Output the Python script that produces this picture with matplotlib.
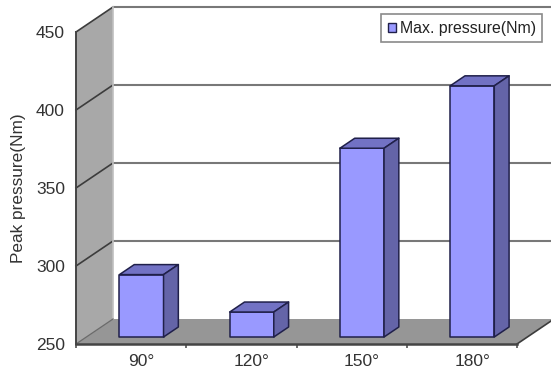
import matplotlib
matplotlib.use("Agg")
import matplotlib.pyplot as plt
from matplotlib.patches import Polygon, Patch

# Chart data
categories = ["90°", "120°", "150°", "180°"]
max_pressure = [290, 266, 371, 411]
y_ticks = [250, 300, 350, 400, 450]
series_name = "Max. pressure(Nm)"
y_label = "Peak pressure(Nm)"

W, H = 551, 374
plt.rcParams["font.family"] = ["Liberation Sans", "DejaVu Sans"]

fig = plt.figure(figsize=(W / 100, H / 100), dpi=100, facecolor="white")
left, right, bottom, top = 76, 517, 344, 32
ax = fig.add_axes([left / W, 1 - bottom / H, (right - left) / W, (bottom - top) / H])
ax.set_xlim(0, len(categories))
ax.set_ylim(y_ticks[0], y_ticks[-1])
ax.patch.set_visible(False)

# Oblique projection: depth 0 is the front plane, depth 1 the back wall
units_x = (right - left) / len(categories)
units_y = (bottom - top) / (y_ticks[-1] - y_ticks[0])
DX = 37 / units_x
DY = 25 / units_y


def project(x, v, d=0.0):
    return (x + d * DX, v + d * DY)


def face(points, **kw):
    patch = Polygon([project(*p) for p in points], closed=True, clip_on=False, **kw)
    ax.add_patch(patch)
    return patch


n = len(categories)
y0, y1 = y_ticks[0], y_ticks[-1]

# Side wall and floor
face([(0, y0, 0), (0, y0, 1), (0, y1, 1), (0, y1, 0)],
     facecolor="#a8a8a8", edgecolor="none", zorder=1)
face([(0, y0, 0), (0, y0, 1), (n, y0, 1), (n, y0, 0)],
     facecolor="#969696", edgecolor="none", zorder=1)

# Gridlines run across the back wall and fold along the side wall
for v in y_ticks[1:]:
    x_side, y_side = zip(project(0, v, 0), project(0, v, 1))
    ax.plot(x_side, y_side, color="#3c3c3c", lw=1.2, clip_on=False, zorder=2)
    x_back, y_back = zip(project(0, v, 1), project(n, v, 1))
    ax.plot(x_back, y_back, color="#787878", lw=1.5, clip_on=False, zorder=2)

# Outline of the floor's far edge and the wall corner
x_c, y_c = zip(project(0, y0, 1), project(0, y1, 1))
ax.plot(x_c, y_c, color="#c0c0c0", lw=1.2, clip_on=False, zorder=2)
x_f, y_f = zip(project(0, y0, 0), project(0, y0, 1))
ax.plot(x_f, y_f, color="#6a6a6a", lw=0.9, clip_on=False, zorder=2)
x_f, y_f = zip(project(n, y0, 0), project(n, y0, 1))
ax.plot(x_f, y_f, color="#3c3c3c", lw=1.2, clip_on=False, zorder=2)

# Bars as three visible faces
BAR_W = 0.4
D0, D1 = 0.28, 0.68
edge = "#20204a"
for i, value in enumerate(max_pressure):
    xa = i + 0.5 - BAR_W / 2
    xb = i + 0.5 + BAR_W / 2
    style = dict(edgecolor=edge, linewidth=1.1, joinstyle="round", zorder=3)
    face([(xa, y0, D0), (xb, y0, D0), (xb, value, D0), (xa, value, D0)],
         facecolor="#9999ff", **style)
    face([(xa, value, D0), (xb, value, D0), (xb, value, D1), (xa, value, D1)],
         facecolor="#7272c4", **style)
    face([(xb, y0, D0), (xb, y0, D1), (xb, value, D1), (xb, value, D0)],
         facecolor="#6464a8", **style)

# Axes: value ticks on the front edge, category labels under the bars' front faces
for name in ("top", "right"):
    ax.spines[name].set_visible(False)
ax.spines["left"].set_color("#444444")
ax.spines["left"].set_linewidth(1.4)
ax.spines["bottom"].set_color("#444444")
ax.spines["bottom"].set_linewidth(1.8)
ax.set_yticks(y_ticks)
ax.tick_params(axis="y", length=0, pad=8, labelsize=12.5, labelcolor="#333333")
ax.set_xticks(range(n + 1))
ax.set_xticklabels([])
ax.tick_params(axis="x", which="major", length=3, width=1.1, color="#444444")
ax.set_xticks([i + 0.5 + D0 * DX for i in range(n)], categories, minor=True)
ax.tick_params(axis="x", which="minor", length=0, pad=7, labelsize=12.5, labelcolor="#333333")

fig.text(18.5 / W, 1 - 188 / H, y_label, rotation=90, ha="center", va="center",
         fontsize=12.4, color="#333333")

legend = fig.legend(
    handles=[Patch(facecolor="#9999ff", edgecolor=edge, linewidth=1.0, label=series_name)],
    loc="upper left", bbox_to_anchor=(381 / W, 1 - 14 / H), bbox_transform=fig.transFigure,
    borderaxespad=0, borderpad=0.42, handlelength=0.5, handleheight=0.5, handletextpad=0.25,
    fontsize=11.4, fancybox=False, framealpha=1, edgecolor="#8a8a8a", labelcolor="#222222",
)
legend.get_frame().set_linewidth(1.2)
legend.set_zorder(5)

fig.savefig("out.png", dpi=100)
